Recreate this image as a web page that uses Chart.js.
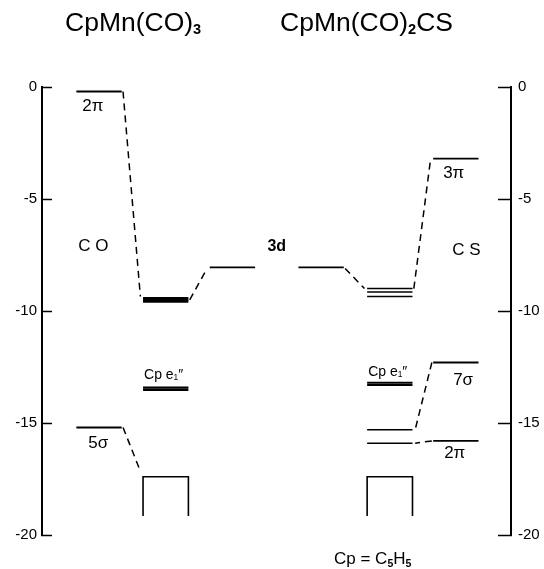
<!DOCTYPE html>
<html><head><meta charset="utf-8">
<script src="https://cdn.jsdelivr.net/npm/chart.js@4"></script>
<style>html,body{margin:0;padding:0;background:#fff}#wrap{width:544px;height:569px;position:relative}</style>
</head><body><div id="wrap"><canvas id="c" width="544" height="569"></canvas></div>
<script>
// ---- data ----
const columns = ["CO", "CpMn(CO)3", "Mn 3d", "Mn 3d", "CpMn(CO)2CS", "CS"];
const columnX = [0, 1, 2, 3.33, 4.36, 5.35];
const yTicks = [0, -5, -10, -15, -20];
const coLevels = [-0.2, -15.2];
const coLabels = ["2π", "5σ"];
const mn3dLevel = [-8.05];
const complex1Levels = [-9.42, -9.5, -9.58, -13.42, -13.52];
const complex2Levels = [-9.0, -9.15, -9.35, -13.2, -13.3, -15.3, -15.9];
const csLevels = [-3.2, -12.3, -15.8];
const csLabels = ["3π", "7σ", "2π"];
const cpBand = [-17.4, -19.15]; // top, bottom of Cp sigma band
// correlation links: [fromCol, fromE, fromSide, toCol, toE, toSide]
const links = [
  [0, -0.2, 1, 1, -9.35, -1],
  [0, -15.2, 1, 1, -17.15, -1],
  [1, -9.5, 1, 2, -8.1, -1],
  [3, -8.1, 1, 4, -9.0, -1],
  [4, -9.0, 1, 5, -3.25, -1],
  [5, -12.3, -1, 4, -15.3, 1],
  [5, -15.8, -1, 4, -15.9, 1]
];

const FAM = '"Liberation Sans", Arial, Helvetica, sans-serif';
const HW = 0.34;
const datasets = [];
function levelDS(col, e, w) {
  datasets.push({data: [{x: columnX[col] - HW, y: e}, {x: columnX[col] + HW, y: e}],
    borderColor: '#000', borderWidth: w, pointRadius: 0, showLine: true, fill: false});
}
coLevels.forEach(e => levelDS(0, e, 1.8));
complex1Levels.forEach(e => levelDS(1, e, 2.2));
levelDS(2, mn3dLevel[0], 1.8);
levelDS(3, mn3dLevel[0], 1.8);
complex2Levels.forEach((e, i) => levelDS(4, e, (i === 3 || i === 4) ? 2 : 1.5));
csLevels.forEach(e => levelDS(5, e, 1.8));
[1, 4].forEach(col => {
  const l = columnX[col] - HW, r = columnX[col] + HW;
  datasets.push({data: [{x: l, y: cpBand[1]}, {x: l, y: cpBand[0]}, {x: r, y: cpBand[0]}, {x: r, y: cpBand[1]}],
    borderColor: '#000', borderWidth: 1.6, pointRadius: 0, showLine: true, fill: false});
});
links.forEach(([c1, e1, s1, c2, e2, s2]) => {
  datasets.push({data: [{x: columnX[c1] + s1 * (HW + 0.02), y: e1}, {x: columnX[c2] + s2 * (HW + 0.04), y: e2}],
    borderColor: '#000', borderWidth: 1.5, borderDash: [7, 5], pointRadius: 0, showLine: true, fill: false});
});

function rich(ctx, x, y, parts, size, align) {
  let total = 0;
  const ws = parts.map(([t, sc, dy, bold]) => {
    ctx.font = (bold ? 'bold ' : '') + (size * sc) + 'px ' + FAM;
    const w = ctx.measureText(t).width; total += w; return w;
  });
  if (align === 'center') x -= total / 2;
  parts.forEach(([t, sc, dy, bold], i) => {
    ctx.font = (bold ? 'bold ' : '') + (size * sc) + 'px ' + FAM;
    ctx.fillText(t, x, y + dy * size);
    x += ws[i];
  });
}

const textPlugin = {
  id: 'texts',
  afterDraw(chart) {
    const ctx = chart.ctx, xs = chart.scales.x, ys = chart.scales.y;
    const px = v => xs.getPixelForValue(v), py = v => ys.getPixelForValue(v);
    ctx.save();
    ctx.fillStyle = '#000';
    ctx.textAlign = 'left';
    ctx.textBaseline = 'alphabetic';
    // titles
    rich(ctx, 65, 31, [["CpMn(CO)", 1, 0], ["3", 0.55, 0.12, true]], 26.5);
    rich(ctx, 280, 31, [["CpMn(CO)", 1, 0], ["2", 0.55, 0.12, true], ["CS", 1, 0]], 26.5);
    // level labels
    const L = c => px(columnX[c] - HW);
    ctx.font = '17px ' + FAM;
    ctx.fillText(coLabels[0], L(0) + 6, py(coLevels[0]) + 20);
    ctx.fillText(coLabels[1], L(0) + 12, py(coLevels[1]) + 21);
    ctx.fillText(csLabels[0], L(5) + 10, py(csLevels[0]) + 19);
    ctx.fillText(csLabels[1], L(5) + 20, py(csLevels[1]) + 22);
    ctx.fillText(csLabels[2], L(5) + 11, py(csLevels[2]) + 17);
    ctx.font = '17px ' + FAM;
    ctx.fillText("C O", L(0) + 2, py(-7.3));
    ctx.fillText("C S", L(5) + 19, py(-7.5));
    ctx.font = 'bold 16px ' + FAM;
    ctx.textAlign = 'center';
    ctx.fillText("3d", (px(columnX[2]) + px(columnX[3])) / 2, py(-7.3));
    ctx.textAlign = 'left';
    rich(ctx, L(1) + 1, py(complex1Levels[3]) - 9, [["Cp e", 1, 0], ["1", 0.6, 0.1], ["″", 1, 0]], 14);
    rich(ctx, L(4) + 1, py(complex2Levels[3]) - 7, [["Cp e", 1, 0], ["1", 0.6, 0.1], ["″", 1, 0]], 14);
    rich(ctx, 334, 564, [["Cp = C", 1, 0], ["5", 0.62, 0.15, true], ["H", 1, 0], ["5", 0.62, 0.15, true]], 17);
    ctx.restore();
  }
};

function yAxis(pos, tl, pad, w) {
  return {
    type: 'linear', position: pos, min: -20, max: 0,
    afterBuildTicks: s => { s.ticks = yTicks.map(v => ({value: v})); },
    grid: {drawOnChartArea: false, drawTicks: true, tickLength: tl, tickWidth: 1.5, tickColor: '#000'},
    border: {display: true, color: '#000', width: 2},
    ticks: {color: '#000', font: {size: 15, family: FAM}, padding: pad},
    afterFit: s => { s.width = w; }
  };
}

new Chart(document.getElementById('c'), {
  type: 'scatter',
  data: {datasets},
  options: {
    responsive: false, animation: false, events: [],
    layout: {padding: {top: 87, bottom: 34, left: 0, right: 0}},
    plugins: {legend: {display: false}, tooltip: {enabled: false}, title: {display: false}},
    scales: {
      x: {type: 'linear', min: -0.855, max: 6.177, display: false},
      y: yAxis('left', -10, 15, 42),
      y2: yAxis('right', -13, 20, 33)
    }
  },
  plugins: [textPlugin]
});
</script>
</body></html>
